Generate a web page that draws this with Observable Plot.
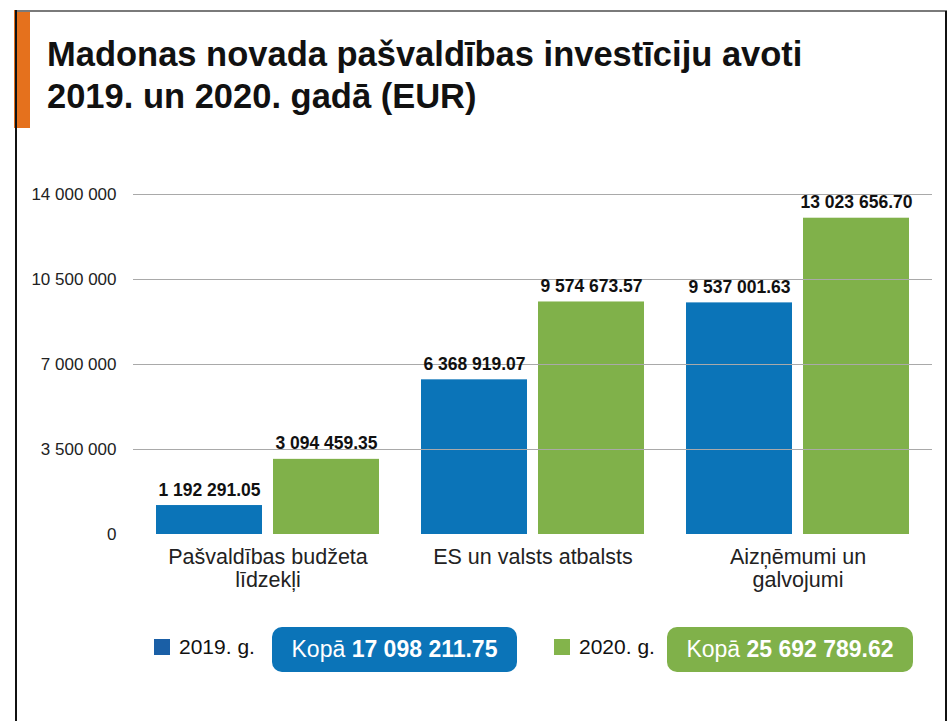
<!DOCTYPE html>
<html>
<head>
<meta charset="utf-8">
<script src="https://cdn.jsdelivr.net/npm/d3@7"></script>
<script src="https://cdn.jsdelivr.net/npm/@observablehq/plot@0.6"></script>
<style>
  body { margin: 0; background: #fff; font-family: "Liberation Sans", Arial, Helvetica, sans-serif; }
  #wrap { position: relative; width: 952px; height: 721px; overflow: hidden; background: #fff; }
  .abs { position: absolute; }
  #orange { left: 14px; top: 10px; width: 16px; height: 118px; background: #e5711d; }
  #topline { left: 15px; top: 10px; width: 932px; height: 2px; background: #7a7a7a; }
  #leftline { left: 15px; top: 10px; width: 1.5px; height: 711px; background: #111; }
  #rightline { left: 945px; top: 11px; width: 2px; height: 710px; background: #111; }
  #title { left: 47px; top: 33px; font-size: 34.5px; font-weight: bold; line-height: 42px; color: #111; white-space: nowrap; }
  #chart { left: 0; top: 150px; }
  .sq { position: absolute; width: 16px; height: 16px; top: 639px; }
  .legtext { position: absolute; top: 634px; font-size: 21px; line-height: 26px; color: #111; white-space: nowrap; }
  .box { position: absolute; top: 627px; height: 45px; border-radius: 10px; color: #fff; font-size: 23px; line-height: 45px; text-align: center; white-space: nowrap; }
  .box b { font-weight: bold; }
</style>
</head>
<body>
<div id="wrap">
  <div id="orange" class="abs"></div>
  <div id="topline" class="abs"></div>
  <div id="leftline" class="abs"></div>
  <div id="rightline" class="abs"></div>
  <div id="title" class="abs">Madonas novada pašvaldības investīciju avoti<br>2019. un 2020. gadā (EUR)</div>
  <div id="chart" class="abs"></div>
  <div id="legend"></div>
</div>
<script>
const categories = ["Pašvaldības budžeta līdzekļi", "ES un valsts atbalsts", "Aizņēmumi un galvojumi"];
const tickLabels = ["Pašvaldības budžeta\nlīdzekļi", "ES un valsts atbalsts", "Aizņēmumi un\ngalvojumi"];
const years = ["2019. g.", "2020. g."];
const values2019 = [1192291.05, 6368919.07, 9537001.63];
const values2020 = [3094459.35, 9574673.57, 13023656.70];
const yTicks = [0, 3500000, 7000000, 10500000, 14000000];
const barColors = ["#0b74b8", "#80b14a"];
const legendColors = ["#1a5fa6", "#83b44b"];
const totalLabel = "Kopā";

const rows2019 = categories.map((c, i) => ({cat: c, value: values2019[i]}));
const rows2020 = categories.map((c, i) => ({cat: c, value: values2020[i]}));

const fmtVal = v => d3.format(",.2f")(v).replace(/,/g, " ");
const fmtTick = v => d3.format(",d")(v).replace(/,/g, " ");

const chart = Plot.plot({
  width: 952,
  height: 450,
  marginLeft: 133,
  marginRight: 20,
  marginTop: 44,
  marginBottom: 66,
  style: {fontFamily: "'Liberation Sans', Arial, sans-serif", fontSize: "17px", color: "#222", background: "transparent"},
  x: {domain: categories, paddingInner: 0.158, paddingOuter: 0.081, label: null},
  y: {domain: [0, 14000000], label: null},
  marks: [
    Plot.barY(rows2019, {x: "cat", y: "value", fill: barColors[0], insetRight: 117}),
    Plot.barY(rows2020, {x: "cat", y: "value", fill: barColors[1], insetLeft: 117}),
    Plot.ruleY(yTicks.filter(t => t > 0), {stroke: "#a9a9a9", strokeWidth: 1.2}),
    Plot.text(rows2019, {x: "cat", y: "value", text: d => fmtVal(d.value), dx: -58.5, dy: -10, lineAnchor: "bottom", fontWeight: "bold", fontSize: 17.5, fill: "#111"}),
    Plot.text(rows2020, {x: "cat", y: "value", text: d => fmtVal(d.value), dx: 58.5, dy: -10, lineAnchor: "bottom", fontWeight: "bold", fontSize: 17.5, fill: "#111"}),
    Plot.axisY({ticks: yTicks, tickSize: 0, tickPadding: 17, tickFormat: fmtTick, fontSize: 17, label: null}),
    Plot.axisX({tickSize: 0, tickPadding: 13, tickFormat: c => tickLabels[categories.indexOf(c)], fontSize: 21.5, lineHeight: 1.08, label: null})
  ]
});
document.getElementById("chart").appendChild(chart);

// Legend with totals computed from the data
const totals = [d3.sum(values2019), d3.sum(values2020)];
const legendPos = [
  {sq: 154, txt: 179, box: 272, w: 245},
  {sq: 554, txt: 579, box: 667, w: 246}
];
const legend = document.getElementById("legend");
years.forEach((y, i) => {
  const p = legendPos[i];
  const sq = document.createElement("div");
  sq.className = "sq"; sq.style.left = p.sq + "px"; sq.style.background = legendColors[i];
  const t = document.createElement("div");
  t.className = "legtext"; t.style.left = p.txt + "px"; t.textContent = y;
  const b = document.createElement("div");
  b.className = "box"; b.style.left = p.box + "px"; b.style.width = p.w + "px"; b.style.background = barColors[i];
  b.innerHTML = totalLabel + " <b>" + fmtVal(totals[i]) + "</b>";
  legend.append(sq, t, b);
});
</script>
</body>
</html>
